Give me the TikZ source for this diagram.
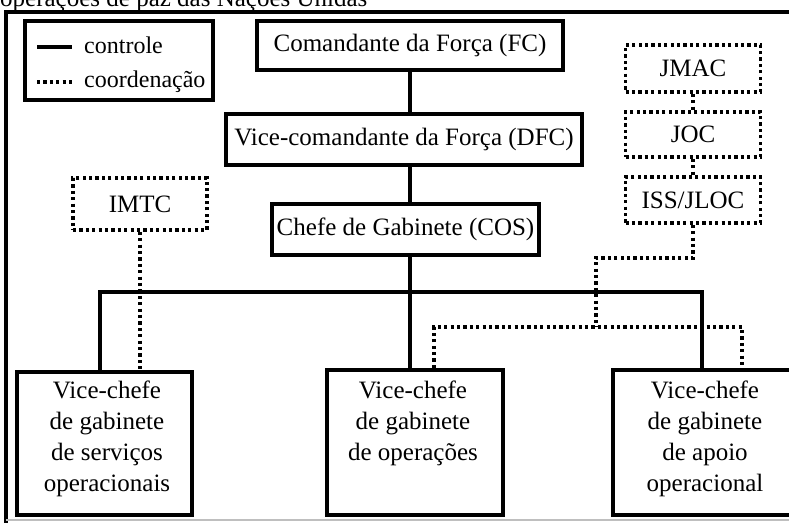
\documentclass[tikz,border=0pt]{standalone}
\usepackage{fontspec}
\setmainfont{Liberation Serif}
\begin{document}
\begin{tikzpicture}[x=1pt,y=-1pt,
  every node/.style={font=\fontsize{25}{31}\selectfont, inner sep=0pt},
  legtext/.style={anchor=base west, font=\fontsize{24}{30}\selectfont},
  solidbox/.style={draw, line width=4pt, rectangle},
  dotbox/.style={draw, line width=3.5pt, dash pattern=on 3.2pt off 3.2pt, rectangle},
  ctrl/.style={line width=3.6pt},
  coordl/.style={line width=3.5pt, dash pattern=on 3.2pt off 3.2pt},
  btext/.style={align=center, anchor=north},
]
\useasboundingbox (0,0) rectangle (789,522);
\fill[white] (0,0) rectangle (789,522);
\begin{scope}
\clip (0,0) rectangle (789,522);
% cut-off title
\node[anchor=base west] (title) at (0,6) {operações de paz das Nações Unidas};
% outer frame
\draw[line width=3.2pt] (6,540) -- (6,12) -- (820,12);
\draw[black!25, line width=1.2pt] (6,520) -- (820,520);

% legend
\node[solidbox, minimum width=188pt, minimum height=79pt] (leg) at (119,60.5) {};
\coordinate (la1) at (37,47); \coordinate (la2) at (72,47);
\coordinate (lb1) at (37,82); \coordinate (lb2) at (72,82);
\draw[ctrl] (la1) -- (la2);
\draw[coordl] (lb1) -- (lb2);
\node[legtext] (lt1) at (84,53) {controle};
\node[legtext] (lt2) at (84,87) {coordenação};

% hierarchy boxes
\node[solidbox, minimum width=306pt, minimum height=49pt] (fc) at (410,45.5) {Comandante da Força (FC)};
\node[solidbox, minimum width=356pt, minimum height=51pt] (dfc) at (404,139.5) {Vice-comandante da Força (DFC)};
\node[solidbox, minimum width=267pt, minimum height=51pt] (cos) at (405.5,229.5) {Chefe de Gabinete (COS)};

% dotted boxes
\node[dotbox, minimum width=134pt, minimum height=52pt] (imtc) at (140,204) {IMTC};
\node[dotbox, minimum width=135pt, minimum height=47pt] (jmac) at (693,68.5) {JMAC};
\node[dotbox, minimum width=135pt, minimum height=45pt] (joc) at (693,134.5) {JOC};
\node[dotbox, minimum width=135pt, minimum height=46pt] (iss) at (693,200) {ISS/JLOC};

% bottom boxes
\node[solidbox, minimum width=175pt, minimum height=143pt] (vl) at (104.5,443.5) {};
\node[solidbox, minimum width=176pt, minimum height=145pt] (vm) at (415,442.5) {};
\node[solidbox, minimum width=182pt, minimum height=145pt] (vr) at (704,442.5) {};
\node[btext] (tl) at (107,381) {Vice-chefe\\de gabinete\\de serviços\\operacionais};
\node[btext] (tm) at (413,381) {Vice-chefe\\de gabinete\\de operações};
\node[btext] (tr) at (705,381) {Vice-chefe\\de gabinete\\de apoio\hspace*{17pt}\\operacional};

% control connectors
\draw[ctrl] (fc.south) -- (fc.south |- dfc.north);
\draw[ctrl] (fc.south |- dfc.south) -- (fc.south |- cos.north);
\draw[ctrl] (fc.south |- cos.south) -- (fc.south |- vm.north);
\coordinate (busL) at (100,292);
\coordinate (busR) at (702,292);
\draw[ctrl] (busL |- vl.north) -- (busL) -- (busR) -- (busR |- vr.north);

% coordination connectors
\draw[coordl] (imtc.south) -- (imtc.south |- vl.north);
\draw[coordl] (jmac.south) -- (joc.north);
\draw[coordl] (joc.south) -- (iss.north);
\coordinate (k1) at (596,258);
\coordinate (k2) at (596,327);
\draw[coordl] (iss.south) |- (k1) -- (k2);
\coordinate (dl) at (434,327);
\coordinate (dr) at (742,327);
\draw[coordl] (dl |- vm.north) -- (dl) -- (dr) -- (dr |- vr.north);
\end{scope}
\end{tikzpicture}
\end{document}
